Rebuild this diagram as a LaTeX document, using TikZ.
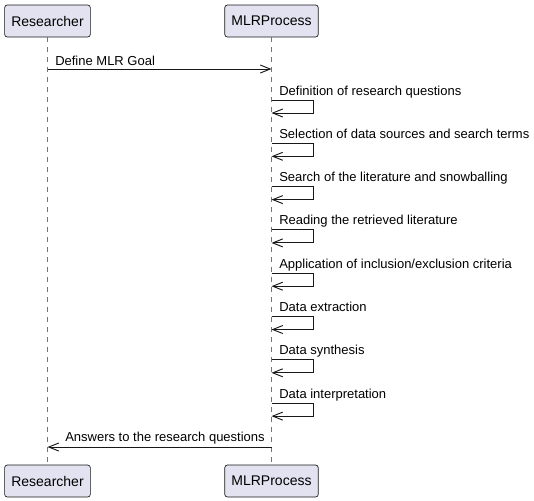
\documentclass[tikz,border=0pt]{standalone}
\usepackage{fontspec}
\setmainfont{Liberation Sans}
\usepackage{xcolor}
\usetikzlibrary{arrows.meta, positioning}
\definecolor{umlline}{HTML}{181818}
\definecolor{umlfill}{HTML}{E2E2F0}

\begin{document}
\begin{tikzpicture}[
			x=0.75pt, y=-0.75pt,
			participant/.style={rectangle, rounded corners=2pt, draw=umlline, fill=umlfill, line width=0.5pt, minimum height=24pt, inner xsep=5pt, font=\fontsize{10.5}{12}\selectfont},
			lifeline/.style={draw=umlline!60, line width=0.5pt, dash pattern=on 3.75pt off 3.75pt},
			message/.style={draw=umlline, line width=0.7pt, -{Straight Barb[length=7.5pt, width=6pt]}},
			msglabel/.style={anchor=base west, inner sep=0pt, font=\fontsize{9.75}{11.7}\selectfont}
			]
			\useasboundingbox (0,0) rectangle (534,500);
			
			% Participantes
			\node (resTop) [participant] at (47.5,21) {Researcher};
			\node (mlrTop) [participant] at (271.5,21) {MLRProcess};
			\node (resBot) [participant] at (47.5,481) {Researcher};
			\node (mlrBot) [participant] at (271.5,481) {MLRProcess};
			
			% Lineas de vida
			\draw [lifeline] (resTop) -- (resBot);
			\draw [lifeline] (mlrTop) -- (mlrBot);
			
			% Mensaje inicial
			\coordinate (goalFrom) at (47.5,69);
			\coordinate (goalTo) at (271.5,69);
			\node (goal) [msglabel] at (55,65) {Define MLR Goal};
			\draw [message] (goalFrom) -- (goalTo);
			
			% Pasos del proceso
			\foreach \lbl [count=\i from 0] in {Definition of research questions, Selection of data sources and search terms, Search of the literature and snowballing, Reading the retrieved literature, Application of inclusion/exclusion criteria, Data extraction, Data synthesis, Data interpretation} {
				\pgfmathsetmacro\yb{95+43.3*\i}
				\node (step\i) [msglabel] at (279,\yb) {\lbl};
				\coordinate (out\i) at (271.5,\yb+5);
				\coordinate (in\i) at (271.5,\yb+18);
				\draw [message] (out\i) -- ++(42,0) |- (in\i);
			}
			
			% Respuesta final
			\coordinate (ansFrom) at (271.5,447);
			\coordinate (ansTo) at (47.5,447);
			\node (answer) [msglabel] at (65,441) {Answers to the research questions};
			\draw [message] (ansFrom) -- (ansTo);
			
		\end{tikzpicture}
\end{document}
